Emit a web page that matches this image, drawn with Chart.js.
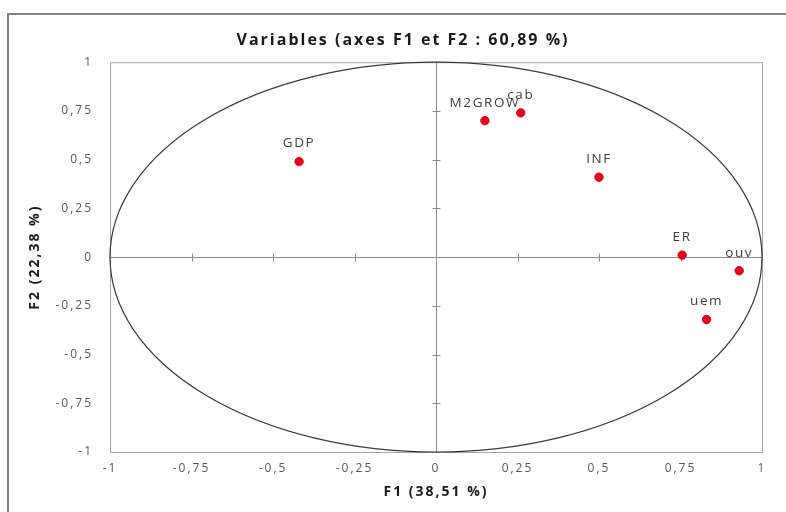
<!DOCTYPE html>
<html>
<head>
<meta charset="utf-8">
<script src="https://cdn.jsdelivr.net/npm/chart.js@4.4.0/dist/chart.umd.min.js"></script>
<style>
    html, body { margin: 0; padding: 0; background: #fff; }
    #wrap { width: 786px; height: 512px; }
</style>
</head>
<body>
<div id="wrap"><canvas id="pcaChart" width="786" height="512"></canvas></div>
<script>
    'use strict';

    var variables = ['GDP', 'M2GROW', 'cab', 'INF', 'ER', 'ouv', 'uem'];
    var f1 = [-0.42, 0.15, 0.26, 0.50, 0.755, 0.93, 0.83];
    var f2 = [0.49, 0.70, 0.74, 0.41, 0.01, -0.07, -0.32];
    var tickValues = [-1, -0.75, -0.5, -0.25, 0, 0.25, 0.5, 0.75, 1];

    var points = variables.map(function (v, i) {
        return { x: f1[i], y: f2[i], label: v };
    });

    function fmt(value) {
        return String(value).replace('.', ',');
    }

    // cadre, axes à zéro, cercle et étiquettes
    var pcaDecor = {
        id: 'pcaDecor',
        beforeDraw: function (chart) {
            var ctx = chart.ctx;
            ctx.letterSpacing = '2px';
            ctx.save();
            ctx.strokeStyle = '#858585';
            ctx.lineWidth = 2;
            ctx.strokeRect(8, 14, 800, 520);
            ctx.restore();
        },
        beforeDatasetsDraw: function (chart) {
            var ctx = chart.ctx, a = chart.chartArea;
            var sx = chart.scales.x, sy = chart.scales.y;
            ctx.save();
            ctx.strokeStyle = '#a6a6a6';
            ctx.lineWidth = 1;
            ctx.strokeRect(a.left + 0.5, a.top + 0.5, a.right - a.left, a.bottom - a.top);

            var x0 = Math.round(sx.getPixelForValue(0)) + 0.5;
            var y0 = Math.round(sy.getPixelForValue(0)) + 0.5;
            ctx.strokeStyle = '#8c8c8c';
            ctx.beginPath();
            ctx.moveTo(x0, a.top); ctx.lineTo(x0, a.bottom);
            ctx.moveTo(a.left, y0); ctx.lineTo(a.right, y0);
            tickValues.forEach(function (v) {
                var px = Math.round(sx.getPixelForValue(v)) + 0.5;
                var py = Math.round(sy.getPixelForValue(v)) + 0.5;
                ctx.moveTo(px, y0 - 4); ctx.lineTo(px, y0 + 4);
                ctx.moveTo(x0 - 4, py); ctx.lineTo(x0 + 4, py);
            });
            ctx.stroke();

            // cercle des corrélations (rayon 1)
            var cx = sx.getPixelForValue(0), cy = sy.getPixelForValue(0);
            ctx.beginPath();
            ctx.ellipse(cx, cy, sx.getPixelForValue(1) - cx, cy - sy.getPixelForValue(1), 0, 0, Math.PI * 2);
            ctx.strokeStyle = '#3a3a3a';
            ctx.lineWidth = 1.2;
            ctx.stroke();
            ctx.restore();
        },
        afterDatasetsDraw: function (chart) {
            var ctx = chart.ctx;
            var meta = chart.getDatasetMeta(0);
            ctx.save();
            ctx.letterSpacing = '1.6px';
            ctx.font = '13.5px "Open Sans"';
            ctx.fillStyle = '#404040';
            ctx.textAlign = 'center';
            ctx.textBaseline = 'middle';
            meta.data.forEach(function (el, i) {
                ctx.fillText(variables[i], el.x, el.y - 18);
            });
            ctx.restore();
        }
    };

    var ctx = document.getElementById('pcaChart').getContext('2d');

    var pcaChart = new Chart(ctx, {
        type: 'scatter',
        data: {
            datasets: [{
                label: 'Variables',
                data: points,
                backgroundColor: '#e0001b',
                borderColor: '#e0001b',
                pointRadius: 4.2,
                pointHoverRadius: 4.2
            }]
        },
        options: {
            responsive: false,
            animation: false,
            devicePixelRatio: 1,
            layout: { padding: { left: 44, right: 24, top: 0, bottom: 0 } },
            plugins: {
                legend: { display: false },
                tooltip: { enabled: false },
                title: {
                    display: true,
                    text: 'Variables (axes F1 et F2 : 60,89 %)',
                    color: '#1a1a1a',
                    font: { family: '"Open Sans"', size: 16, weight: 'bold' },
                    padding: { top: 31, bottom: 12 }
                }
            },
            scales: {
                x: {
                    type: 'linear',
                    min: -1,
                    max: 1,
                    grid: { display: false, drawTicks: false },
                    border: { display: false },
                    ticks: {
                        stepSize: 0.25,
                        padding: 9,
                        color: '#595959',
                        font: { family: '"Open Sans"', size: 12 },
                        callback: fmt
                    },
                    title: {
                        display: true,
                        text: 'F1 (38,51 %)',
                        color: '#1a1a1a',
                        font: { family: '"Open Sans"', size: 14, weight: 'bold' },
                        padding: { top: 0, bottom: 12 }
                    },
                    afterFit: function (s) { s.height = 60; }
                },
                y: {
                    type: 'linear',
                    min: -1,
                    max: 1,
                    grid: { display: false, drawTicks: false },
                    border: { display: false },
                    ticks: {
                        stepSize: 0.25,
                        padding: 17,
                        color: '#595959',
                        font: { family: '"Open Sans"', size: 12 },
                        callback: fmt
                    },
                    title: {
                        display: true,
                        text: 'F2 (22,38 %)',
                        color: '#1a1a1a',
                        font: { family: '"Open Sans"', size: 14, weight: 'bold' },
                        padding: { top: -17, bottom: 0 }
                    },
                    afterFit: function (s) { s.width = 66; }
                }
            }
        },
        plugins: [pcaDecor]
    });
</script>
</body>
</html>
